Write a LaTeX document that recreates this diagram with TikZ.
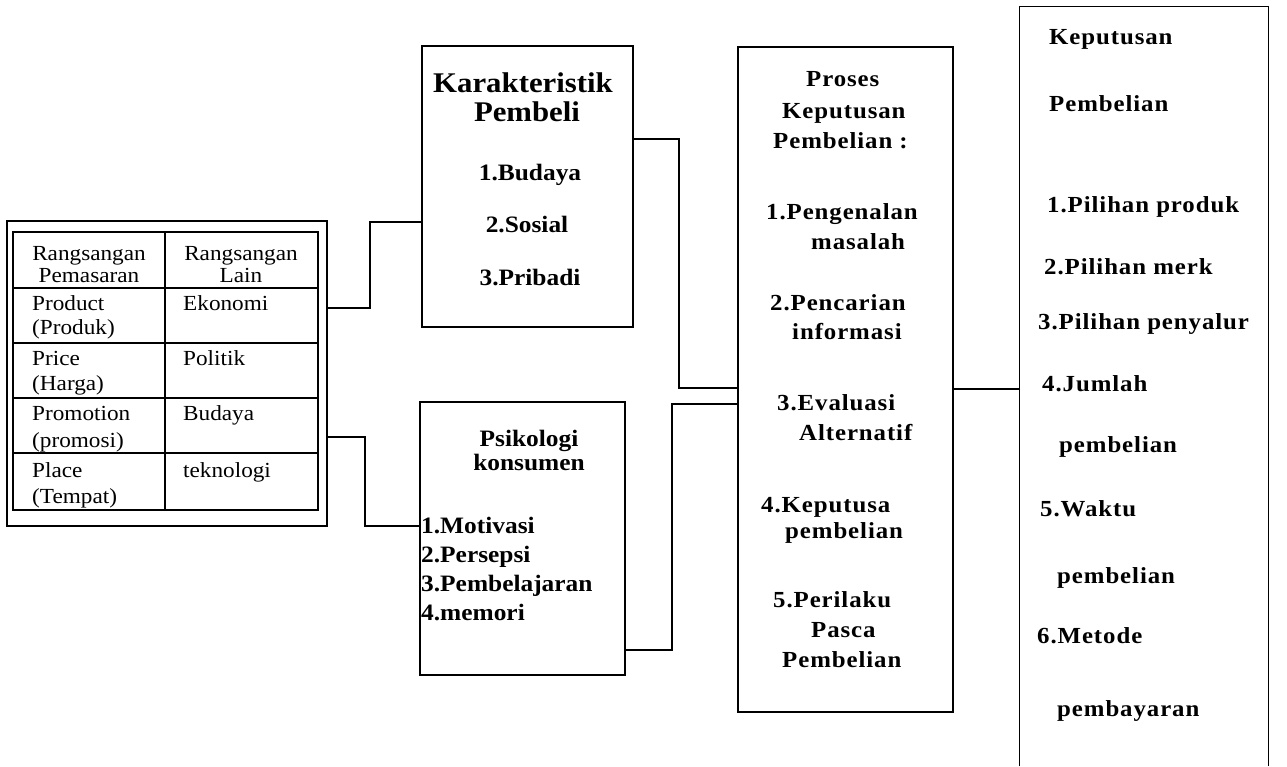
\documentclass[tikz,border=0pt]{standalone}
\usepackage{fontspec}
\setmainfont{Liberation Serif}[FakeStretch=1.08]
\newfontfamily\spacedserif{Liberation Serif}[FakeStretch=1.08, LetterSpace=4]
\begin{document}
\begin{tikzpicture}[x=1pt,y=-1pt,
  box/.style={draw, line width=1.3pt, inner sep=0pt},
  wire/.style={line width=1.3pt},
  grid/.style={line width=1.1pt},
  tcell/.style={inner sep=0pt, anchor=base west, font=\fontsize{21.5}{23}\selectfont},
  thead/.style={inner sep=0pt, align=center, font=\fontsize{21.5}{22}\selectfont},
  lbl/.style={inner sep=0pt, anchor=base west, font=\bfseries\fontsize{23.5}{26}\selectfont},
  slbl/.style={inner sep=0pt, anchor=base west, font=\spacedserif\bfseries\fontsize{23}{26}\selectfont},
  clbl/.style={inner sep=0pt, anchor=base, font=\bfseries\fontsize{23.5}{26}\selectfont},
  bighead/.style={inner sep=0pt, anchor=base, font=\bfseries\fontsize{28.5}{31}\selectfont}]
\useasboundingbox (0,0) rectangle (1287,766);
\fill[white] (0,0) rectangle (1287,766);

% ---- boxes ----
\node[box, minimum width=320pt, minimum height=305pt] (frame) at (167,373.5) {};
\node[box, minimum width=211pt, minimum height=281pt] (kar) at (527.5,186.5) {};
\node[box, minimum width=205pt, minimum height=273pt] (psi) at (522.5,538.5) {};
\node[box, minimum width=215pt, minimum height=665pt] (pro) at (845.5,379.5) {};
\node[inner sep=0pt, minimum width=248pt, minimum height=759pt] (kep) at (1144,386.5) {};
\draw[wire] (kep.south west) -- (kep.north west) -- (kep.north east) -- (kep.south east);

% ---- table inside frame ----
\draw[grid] (13,232) rectangle (318,510);
\draw[grid] (165,232) -- (165,510);
\foreach \yy in {288,343,398,453} \draw[grid] (13,\yy) -- (318,\yy);
\node[thead] (th1) at (89,265) {Rangsangan\\Pemasaran};
\node[thead] (th2) at (241,265) {Rangsangan\\Lain};
\node[tcell] (r1a) at (32,310) {Product};
\node[tcell] (r1b) at (32,334) {(Produk)};
\node[tcell] (r2a) at (32,365) {Price};
\node[tcell] (r2b) at (32,390) {(Harga)};
\node[tcell] (r3a) at (32,420) {Promotion};
\node[tcell] (r3b) at (32,447) {(promosi)};
\node[tcell] (r4a) at (32,477) {Place};
\node[tcell] (r4b) at (32,503) {(Tempat)};
\node[tcell] (s1) at (183,310) {Ekonomi};
\node[tcell] (s2) at (183,365) {Politik};
\node[tcell] (s3) at (183,420) {Budaya};
\node[tcell] (s4) at (183,477) {teknologi};

% ---- Karakteristik Pembeli ----
\node[bighead] (ka1) at (523,92) {Karakteristik};
\node[bighead] (ka2) at (527,121) {Pembeli};
\node[clbl] (ka3) at (530,180) {1.Budaya};
\node[clbl] (ka4) at (527,232) {2.Sosial};
\node[clbl] (ka5) at (530,285) {3.Pribadi};

% ---- Psikologi konsumen ----
\node[clbl] (ps1) at (529,446) {Psikologi};
\node[clbl] (ps2) at (529,470) {konsumen};
\node[lbl] (ps3) at (421,533) {1.Motivasi};
\node[lbl] (ps4) at (421,562) {2.Persepsi};
\node[lbl] (ps5) at (421,591) {3.Pembelajaran};
\node[lbl] (ps6) at (421,620) {4.memori};

% ---- Proses Keputusan Pembelian ----
\node[slbl] (pr1) at (806,86) {Proses};
\node[slbl] (pr2) at (782,118) {Keputusan};
\node[slbl] (pr3) at (773,148) {Pembelian :};
\node[slbl] (pr4) at (766,219) {1.Pengenalan};
\node[slbl] (pr5) at (811,249) {masalah};
\node[slbl] (pr6) at (770,310) {2.Pencarian};
\node[slbl] (pr7) at (792,339) {informasi};
\node[slbl] (pr8) at (777,410) {3.Evaluasi};
\node[slbl] (pr9) at (799,440) {Alternatif};
\node[slbl] (pr10) at (761,512) {4.Keputusa};
\node[slbl] (pr11) at (785,538) {pembelian};
\node[slbl] (pr12) at (773,607) {5.Perilaku};
\node[slbl] (pr13) at (811,637) {Pasca};
\node[slbl] (pr14) at (782,667) {Pembelian};

% ---- Keputusan Pembelian ----
\node[slbl] (kp1) at (1049,44) {Keputusan};
\node[slbl] (kp2) at (1049,111) {Pembelian};
\node[slbl] (kp3) at (1047,212) {1.Pilihan produk};
\node[slbl] (kp4) at (1044,274) {2.Pilihan merk};
\node[slbl] (kp5) at (1038,329) {3.Pilihan penyalur};
\node[slbl] (kp6) at (1042,391) {4.Jumlah};
\node[slbl] (kp7) at (1059,452) {pembelian};
\node[slbl] (kp8) at (1040,516) {5.Waktu};
\node[slbl] (kp9) at (1057,583) {pembelian};
\node[slbl] (kp10) at (1037,643) {6.Metode};
\node[slbl] (kp11) at (1057,716) {pembayaran};

% ---- connectors ----
\coordinate (ya) at (0,308);
\coordinate (yb) at (0,222);
\coordinate (yc) at (0,437);
\coordinate (yd) at (0,526);
\coordinate (ye) at (0,139);
\coordinate (yf) at (0,388);
\coordinate (yg) at (0,650);
\coordinate (yh) at (0,404);
\coordinate (yi) at (0,389);
\coordinate (xa) at (370,0);
\coordinate (xb) at (365,0);
\coordinate (xc) at (679,0);
\coordinate (xd) at (672,0);

\draw[wire] (frame.east |- ya) -- (xa |- ya) -- (xa |- yb) -- (kar.west |- yb);
\draw[wire] (frame.east |- yc) -- (xb |- yc) -- (xb |- yd) -- (psi.west |- yd);
\draw[wire] (kar.east |- ye) -- (xc |- ye) -- (xc |- yf) -- (pro.west |- yf);
\draw[wire] (psi.east |- yg) -- (xd |- yg) -- (xd |- yh) -- (pro.west |- yh);
\draw[wire] (pro.east |- yi) -- (kep.west |- yi);
\end{tikzpicture}
\end{document}
